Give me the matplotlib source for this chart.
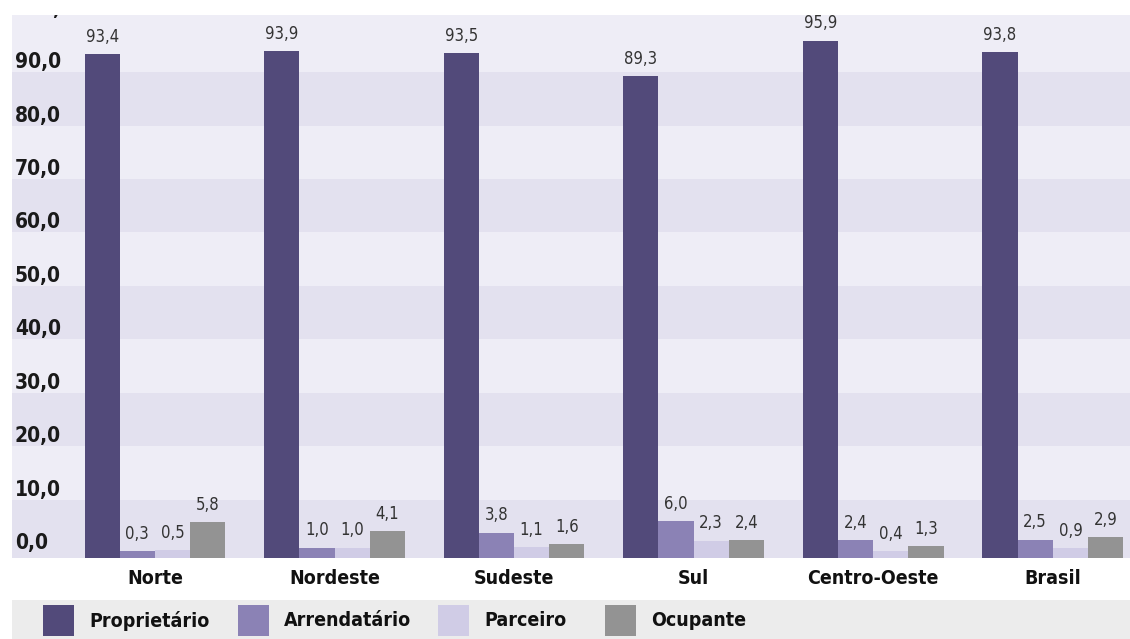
import numpy as np
import matplotlib
matplotlib.use("Agg")
import matplotlib.pyplot as plt
from matplotlib.patches import Rectangle

regions = ["Norte", "Nordeste", "Sudeste", "Sul", "Centro-Oeste", "Brasil"]
series = ["Proprietário", "Arrendatário", "Parceiro", "Ocupante"]
proprietario = [93.4, 93.9, 93.5, 89.3, 95.9, 93.8]
arrendatario = [0.3, 1.0, 3.8, 6.0, 2.4, 2.5]
parceiro = [0.5, 1.0, 1.1, 2.3, 0.4, 0.9]
ocupante = [5.8, 4.1, 1.6, 2.4, 1.3, 2.9]
yticks = [0, 10, 20, 30, 40, 50, 60, 70, 80, 90, 100]

colors = ["#524a7a", "#8b82b5", "#d0cce6", "#939393"]
FONT = dict(family="DejaVu Sans", stretch="condensed")

W, H = 1130, 639
fig = plt.figure(figsize=(W / 100, H / 100), dpi=100)
fig.patch.set_facecolor("white")

# main axes: px 12..1130 horizontally, 15..558 vertically
ax = fig.add_axes([12 / W, (H - 558) / H, (W - 12) / W, (558 - 15) / H])
ax.set_facecolor("#eeedf6")
for s in ax.spines.values():
    s.set_visible(False)

base = -0.94   # bars start slightly below the zero line, like the source
ax.set_ylim(base, 100.7)
ax.set_xlim(-0.796, 5.43)

# alternating bands
ax.axhspan(base, 10, color="#e3e1ef", zorder=0, lw=0)
for i in range(20, 100, 20):
    ax.axhspan(i, i + 10, color="#e3e1ef", zorder=0, lw=0)

x = np.arange(len(regions))
w = 0.196
data = [proprietario, arrendatario, parceiro, ocupante]
for k, (vals, c, name) in enumerate(zip(data, colors, series)):
    pos = x + (k - 1.5) * w
    vals = np.array(vals)
    ax.bar(pos, vals - base, bottom=base, width=w, color=c, edgecolor="none", zorder=2)
    for px_, v in zip(pos, vals):
        ax.annotate(f"{v:.1f}".replace(".", ","), (px_, v), xytext=(0, 6),
                    textcoords="offset points", ha="center", va="bottom",
                    fontsize=12, color="#333333", zorder=3, **FONT)

# y tick labels drawn inside the shaded area
ax.set_yticks(yticks)
ax.set_yticklabels([f"{t:.1f}".replace(".", ",") for t in yticks],
                   fontweight="bold", fontsize=15, color="#1a1a1a", **FONT)
ax.tick_params(axis="y", length=0, pad=-2, direction="in")
for lbl in ax.get_yticklabels():
    lbl.set_horizontalalignment("left")
    lbl.set_verticalalignment("bottom")
# the top label is cut off by the edge of the plot in the source
top_lbl = ax.get_yticklabels()[-1]
top_lbl.set_clip_box(ax.bbox)
top_lbl.set_clip_on(True)

ax.set_xticks(x)
ax.set_xticklabels(regions, fontweight="bold", fontsize=14, color="#111111", **FONT)
ax.tick_params(axis="x", length=0, pad=8)

# legend strip, entries placed like the source
fig.add_artist(Rectangle((12 / W, 0), (W - 12) / W, 39 / H, transform=fig.transFigure,
                         facecolor="#ececec", edgecolor="none", zorder=0))
leg_x = [43, 238, 438, 605]
for lx, c, name in zip(leg_x, colors, series):
    fig.add_artist(Rectangle((lx / W, 3 / H), 31 / W, 31 / H, transform=fig.transFigure,
                             facecolor=c, edgecolor="none", zorder=1))
    fig.text((lx + 46) / W, 18 / H, name, ha="left", va="center",
             fontweight="bold", fontsize=14, color="#111111", **FONT)

fig.savefig("out.png", dpi=100)
